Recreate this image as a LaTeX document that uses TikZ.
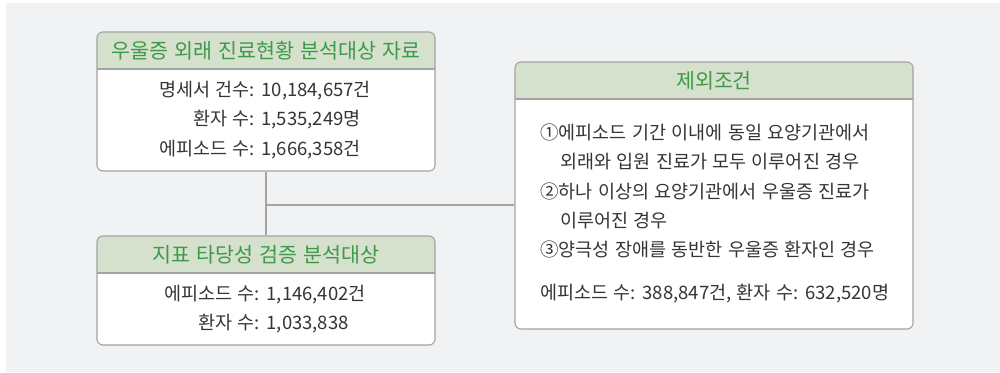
\documentclass[tikz,border=0pt]{standalone}
\usepackage{fontspec}
\setmainfont{Noto Sans CJK KR}[WordSpace=1.3]
\usetikzlibrary{fit}
\definecolor{bggray}{HTML}{F1F2F4}
\definecolor{hdrfill}{HTML}{D5E0CD}
\definecolor{hdrtext}{HTML}{3C9A48}
\definecolor{edge}{HTML}{A3A3A3}
\definecolor{bodytext}{HTML}{353535}
\tikzset{
  panel/.style={draw=edge, line width=1.1pt, rounded corners=6pt, inner sep=0pt},
  hdrline/.style={draw=edge, line width=1.1pt},
  conn/.style={draw=edge, line width=1.4pt},
  title/.style={text=hdrtext, font=\fontsize{20.6}{25}\selectfont, inner sep=0pt},
  body/.style={text=bodytext, font=\fontsize{18.5}{29.4}\selectfont, inner sep=0pt},
}
\newcommand\mkpanel[6]{%
  \begin{scope}
    \clip[rounded corners=6pt] (#2,#3) rectangle (#4,#5);
    \fill[white] (#2,#3) rectangle (#4,#5);
    \fill[hdrfill] (#2,#3) rectangle (#4,#6);
  \end{scope}
  \draw[hdrline] (#2,#6) -- (#4,#6);
  \coordinate (#1nw) at (#2,#3);
  \coordinate (#1se) at (#4,#5);
  \node[panel, fit=(#1nw)(#1se)] (#1) {};
}
\begin{document}
\begin{tikzpicture}[x=1pt,y=-1pt]
\useasboundingbox (0,0) rectangle (1000,372);
\fill[bggray] (6,3) rectangle (1000,372);

\mkpanel{b1}{97}{32}{435}{171}{69}
\mkpanel{b2}{97}{236}{435}{345}{273}
\mkpanel{b3}{515}{62}{913}{329}{99}

\node[title] (t1) at (266,51) {우울증 외래 진료현황 분석대상 자료};
\node[title] (t2) at (266,255) {지표 타당성 검증 분석대상};
\node[title] (t3) at (714,81) {제외조건};

\node[body] (c1) at (265,120) {\begin{tabular}{@{}r@{ }l@{}}
명세서 건수: & 10,184,657건\\
환자 수: & 1,535,249명\\
에피소드 수: & 1,666,358건
\end{tabular}};

\node[body] (c2) at (265,309) {\begin{tabular}{@{}r@{ }l@{}}
에피소드 수: & 1,146,402건\\
환자 수: & 1,033,838
\end{tabular}};

\node[body, align=left, anchor=north west] (c3) at (540,123.5) {①에피소드 기간 이내에 동일 요양기관에서\\
\hspace*{20pt}외래와 입원 진료가 모두 이루어진 경우\\
②하나 이상의 요양기관에서 우울증 진료가\\
\hspace*{20pt}이루어진 경우\\
③양극성 장애를 동반한 우울증 환자인 경우\\[13pt]
에피소드 수: 388,847건, 환자 수: 632,520명};

\coordinate (j) at (266,205);
\draw[conn] (b1.south) -- (b2.north);
\draw[conn] (j) -- (j -| b3.west);
\end{tikzpicture}
\end{document}
